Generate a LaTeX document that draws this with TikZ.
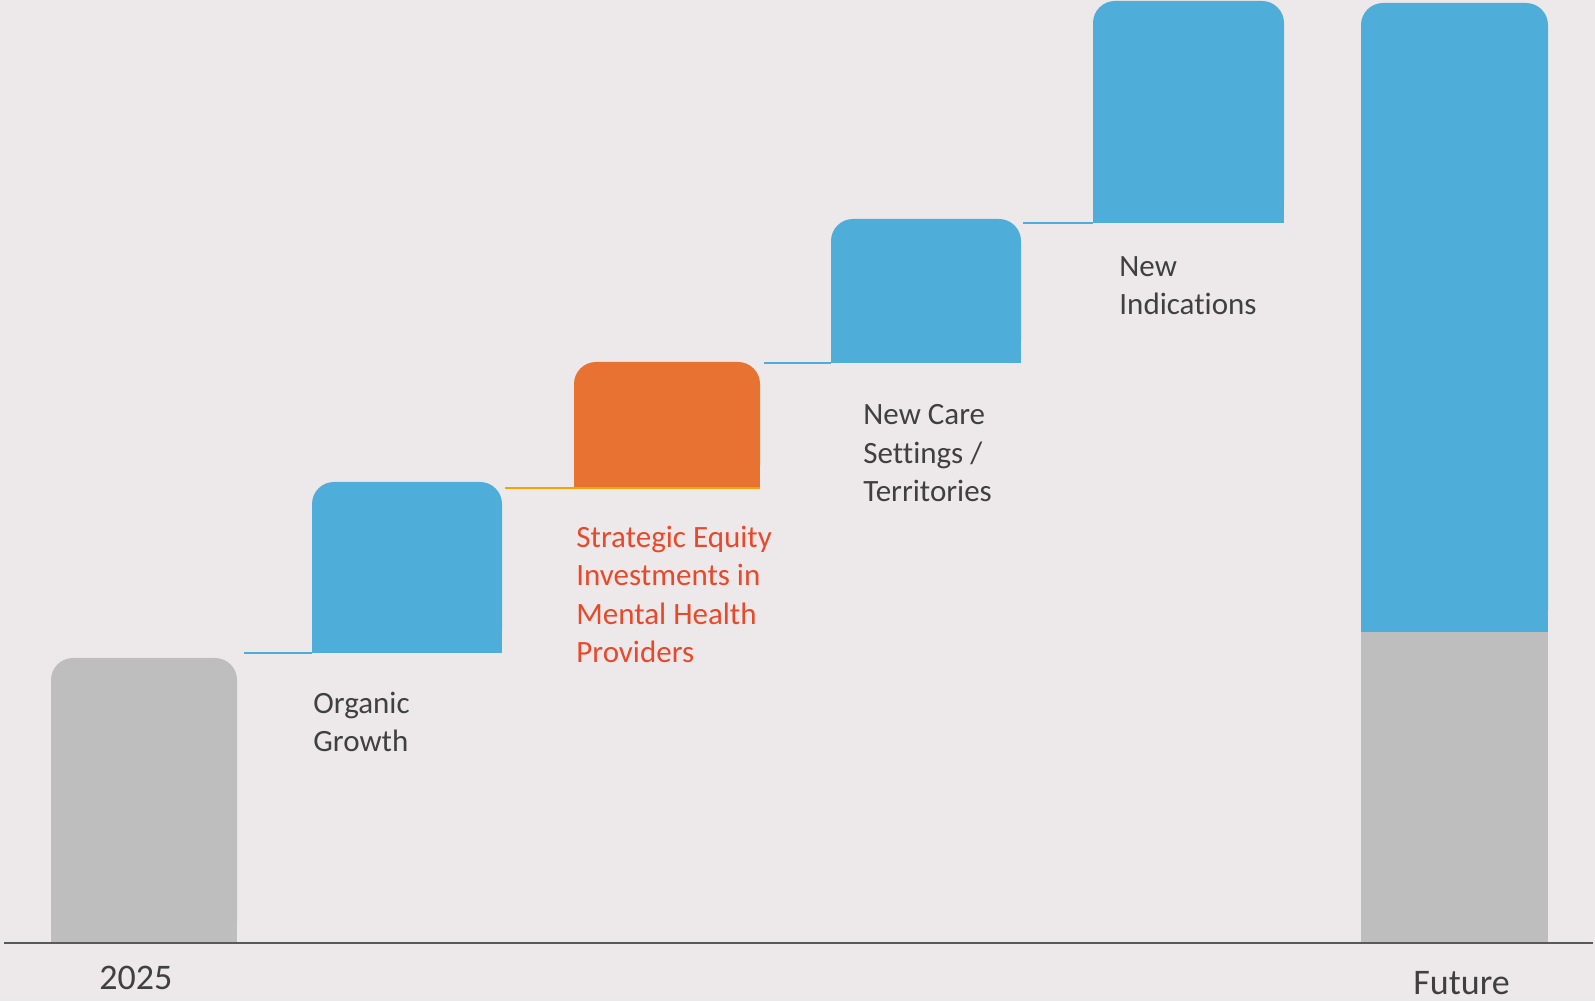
\documentclass[tikz,border=0pt]{standalone}
\usepackage{fontspec}
\setmainfont{Carlito}[Ligatures={NoCommon}]
\usepackage{tikz}
\usetikzlibrary{positioning,calc}
\definecolor{bggray}{RGB}{237,233,234}
\definecolor{barblue}{RGB}{78,174,217}
\definecolor{bargray}{RGB}{190,190,190}
\definecolor{barorange}{RGB}{232,114,50}
\definecolor{lineorange}{RGB}{245,163,0}
\definecolor{txtgray}{RGB}{64,64,64}
\definecolor{txtorange}{RGB}{232,73,43}
\definecolor{axisgray}{RGB}{89,89,89}

\begin{document}
\begin{tikzpicture}[x=0.5pt, y=0.5pt, every node/.style={font=\fontsize{15.5}{19.25}\selectfont}]
            \tikzset{lab/.style={anchor=base west, inner sep=0pt, align=left, text=txtgray}, link/.style={line width=1.1pt, draw=#1}, topbar/.style={fill=#1, rounded corners=11pt}}
            % canvas
            \fill[bggray] (0,0) rectangle (1595,1001);
            \useasboundingbox (0,0) rectangle (1595,1001);
            % bar feet and step ends
            \coordinate (b0) at (51,58);
            \coordinate (b1) at (312,348);
            \coordinate (b2) at (574,513);
            \coordinate (b3) at (831,638);
            \coordinate (b4) at (1093,778);
            \coordinate (s1) at (244,348);
            \coordinate (s2) at (505,513);
            \coordinate (s2e) at (760,513);
            \coordinate (s3) at (764,638);
            \coordinate (s4) at (1023,778);
            \coordinate (ax0) at (4,58);
            \coordinate (ax1) at (1593,58);
            % bars (rounded top, square foot)
            \fill[topbar=bargray] (b0) rectangle (237,343);
            \fill[bargray] (b0) rectangle (237,120);
            \fill[topbar=barblue] (b1) rectangle (502,519);
            \fill[barblue] (b1) rectangle (502,400);
            \fill[topbar=barorange] (b2) rectangle (760,639);
            \fill[barorange] (b2) rectangle (760,570);
            \fill[topbar=barblue] (b3) rectangle (1021,782);
            \fill[barblue] (b3) rectangle (1021,700);
            \fill[topbar=barblue] (b4) rectangle (1284,1000);
            \fill[barblue] (b4) rectangle (1284,850);
            \fill[topbar=barblue] (1361,369) rectangle (1548,998);
            \fill[barblue] (1361,369) rectangle (1548,500);
            \fill[bargray] (1361,58) rectangle (1548,369);
            % steps
            \draw[link=barblue] (s1) -- (b1);
            \draw[link=lineorange] (s2) -- (s2e);
            \draw[link=barblue] (s3) -- (b3);
            \draw[link=barblue] (s4) -- (b4);
            \draw[link=axisgray] (ax0) -- (ax1);
            % labels (anchored at the baseline of the last line)
            \node[lab] (organic) at (313,249) {Organic\\Growth};
            \node[lab, text=txtorange] (equity) at (576,338) {Strategic Equity\\Investments in\\Mental Health\\Providers};
            \node[lab] (care) at (863,499) {New Care\\Settings /\\Territories};
            \node[lab] (indic) at (1119,686) {New\\Indications};
            \node[lab, font=\fontsize{18}{22}\selectfont] (now) at (99,11) {2025};
            \node[lab, font=\fontsize{18}{22}\selectfont] (future) at (1413,6) {Future};
        \end{tikzpicture}
\end{document}
